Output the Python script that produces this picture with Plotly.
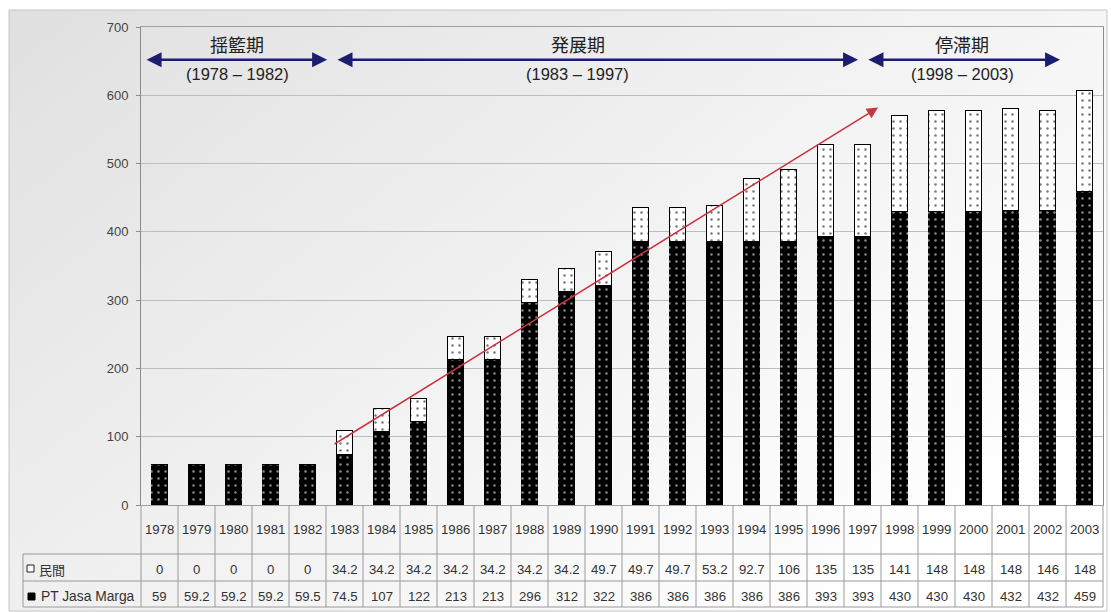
import base64
import plotly.graph_objects as go

# ---------------- data ----------------
years = ["1978", "1979", "1980", "1981", "1982", "1983", "1984", "1985", "1986",
         "1987", "1988", "1989", "1990", "1991", "1992", "1993", "1994", "1995",
         "1996", "1997", "1998", "1999", "2000", "2001", "2002", "2003"]
minkan = [0, 0, 0, 0, 0, 34.2, 34.2, 34.2, 34.2, 34.2, 34.2, 34.2, 49.7, 49.7,
          49.7, 53.2, 92.7, 106, 135, 135, 141, 148, 148, 148, 146, 148]
jasa_marga = [59, 59.2, 59.2, 59.2, 59.5, 74.5, 107, 122, 213, 213, 296, 312, 322,
              386, 386, 386, 386, 386, 393, 393, 430, 430, 430, 432, 432, 459]
series_names = ["民間", "PT Jasa Marga"]
period_titles = ["揺籃期", "発展期", "停滞期"]
period_ranges = ["(1978 – 1982)", "(1983 – 1997)", "(1998 – 2003)"]
y_ticks = [0, 100, 200, 300, 400, 500, 600, 700]

# ---------------- layout helpers (pixel geometry) ----------------
W, H = 1111, 612
L, R, T, B = 141, 8, 27, 107
PW, PH = W - L - R, H - T - B


def px_x(p):
    return (p - L) / PW


def px_y(p):
    return (H - B - p) / PH


FONT = "Liberation Sans, Arial, sans-serif"
CJK = "Noto Sans CJK JP, sans-serif"
NAVY = "#1c1d70"
GRID = "#bdbdbd"
TLINE = "#9a9a9a"

fig = go.Figure()
fig.add_bar(
    x=years, y=jasa_marga, name=series_names[1],
    marker=dict(color="black", line=dict(width=0),
                pattern=dict(shape=".", fgcolor="#8a8a8a", bgcolor="#000000",
                             size=7, solidity=0.1, fillmode="replace")),
)
fig.add_bar(
    x=years, y=minkan, name=series_names[0],
    marker=dict(color="white", line=dict(color="black", width=1),
                pattern=dict(shape=".", fgcolor="#777777", bgcolor="#ffffff",
                             size=7, solidity=0.1, fillmode="replace")),
)

# background gradient (decorative)
svg = ("<svg xmlns='http://www.w3.org/2000/svg' width='100' height='100' preserveAspectRatio='none'>"
       "<defs><linearGradient id='g' x1='0' y1='0' x2='1' y2='0.7'>"
       "<stop offset='0' stop-color='#e0e0e0'/><stop offset='0.55' stop-color='#f2f2f2'/>"
       "<stop offset='1' stop-color='#ffffff'/></linearGradient></defs>"
       "<rect width='100' height='100' fill='url(#g)'/></svg>")
uri = "data:image/svg+xml;base64," + base64.b64encode(svg.encode()).decode()
fx0, fx1, fy0, fy1 = px_x(9), px_x(1107), px_y(611), px_y(10)
fig.add_layout_image(dict(source=uri, xref="paper", yref="paper", x=fx0, y=fy1,
                          sizex=fx1 - fx0, sizey=fy1 - fy0, sizing="stretch",
                          xanchor="left", yanchor="top", layer="below"))

shapes = []
# outer frame
shapes.append(dict(type="rect", xref="paper", yref="paper", x0=fx0, x1=fx1, y0=fy0, y1=fy1,
                   line=dict(color="#c4c4c4", width=1), layer="below"))
# table grid
row_top, row_mid, row_bot = px_y(554), px_y(581), px_y(607)
n = len(years)
for i in range(n + 1):
    shapes.append(dict(type="line", xref="paper", yref="paper", x0=i / n, x1=i / n,
                       y0=0, y1=row_bot, line=dict(color=TLINE, width=1)))
for yy in (row_top, row_mid, row_bot):
    shapes.append(dict(type="line", xref="paper", yref="paper", x0=px_x(23), x1=1,
                       y0=yy, y1=yy, line=dict(color=TLINE, width=1)))
shapes.append(dict(type="line", xref="paper", yref="paper", x0=px_x(23), x1=px_x(23),
                   y0=row_top, y1=row_bot, line=dict(color=TLINE, width=1)))
# legend keys
shapes.append(dict(type="rect", xref="paper", yref="paper", x0=px_x(27), x1=px_x(34),
                   y0=px_y(572), y1=px_y(565), fillcolor="white",
                   line=dict(color="#222", width=1)))
shapes.append(dict(type="rect", xref="paper", yref="paper", x0=px_x(28), x1=px_x(35),
                   y0=px_y(600), y1=px_y(593), fillcolor="black",
                   line=dict(color="black", width=1)))

ann = []
tfont = dict(family=FONT, size=13.2, color="#333")
# year labels and table values (x = category index on the x axis)
for i, yr in enumerate(years):
    ann.append(dict(x=i, y=px_y(529), xref="x", yref="paper", text=yr, showarrow=False,
                    xanchor="center", yanchor="middle", font=tfont))
    ann.append(dict(x=i, y=px_y(569), xref="x", yref="paper", text=f"{minkan[i]:g}",
                    showarrow=False, xanchor="center", yanchor="middle", font=tfont))
    ann.append(dict(x=i, y=px_y(596), xref="x", yref="paper", text=f"{jasa_marga[i]:g}",
                    showarrow=False, xanchor="center", yanchor="middle", font=tfont))
ann.append(dict(x=px_x(37), y=px_y(569), xref="paper", yref="paper", text=series_names[0],
                xanchor="left", yanchor="middle", showarrow=False,
                font=dict(family=CJK, size=13, color="#333")))
ann.append(dict(x=px_x(39), y=px_y(596), xref="paper", yref="paper", text=series_names[1],
                xanchor="left", yanchor="middle", showarrow=False,
                font=dict(family=FONT, size=13.8, color="#333")))

# period headers: (text x index, arrow start index, arrow end index)
period_pos = [(2.1, -0.39, 4.53), (11.3, 4.77, 18.88), (21.7, 19.12, 24.34)]
for (tx, a0, a1), title, rng in zip(period_pos, period_titles, period_ranges):
    ann.append(dict(x=tx, y=675, xref="x", yref="y", text=title, showarrow=False,
                    yanchor="middle", font=dict(family=CJK, size=18, color="#222")))
    ann.append(dict(x=tx, y=631, xref="x", yref="y", text=rng, showarrow=False,
                    yanchor="middle", font=dict(family=FONT, size=16.5, color="#222")))
    ann.append(dict(x=a1, y=652, ax=a0, ay=652, xref="x", yref="y", axref="x", ayref="y",
                    text="", showarrow=True, arrowhead=2, arrowside="end+start",
                    arrowsize=1.2, arrowwidth=2.5, arrowcolor=NAVY))
# trend arrow
ann.append(dict(x=19.42, y=582, ax=4.69, ay=88, xref="x", yref="y", axref="x", ayref="y",
                text="", showarrow=True, arrowhead=2, arrowsize=1.4, arrowwidth=1.6,
                arrowcolor="#cc3341"))

fig.update_layout(
    width=W, height=H, margin=dict(l=L, r=R, t=T, b=B),
    barmode="stack", bargap=0.56, showlegend=False,
    paper_bgcolor="white", plot_bgcolor="rgba(0,0,0,0)",
    font=dict(family=FONT, size=13, color="#333"),
    shapes=shapes, annotations=ann,
    xaxis=dict(type="category", categoryorder="array", categoryarray=years,
               range=[-0.5, len(years) - 0.5], showticklabels=False, showgrid=False,
               showline=True, linecolor="#a0a0a0", mirror=True, ticks="", zeroline=False),
    yaxis=dict(range=[0, 700], tickvals=y_ticks, showgrid=True, gridcolor=GRID,
               gridwidth=1, showline=True, linecolor="#8a8a8a", mirror=True,
               ticks="outside", ticklen=4, tickcolor="#8a8a8a", zeroline=False,
               ticklabelstandoff=5,
               tickfont=dict(family=FONT, size=13, color="#444")),
)

fig.write_html("out.html")
